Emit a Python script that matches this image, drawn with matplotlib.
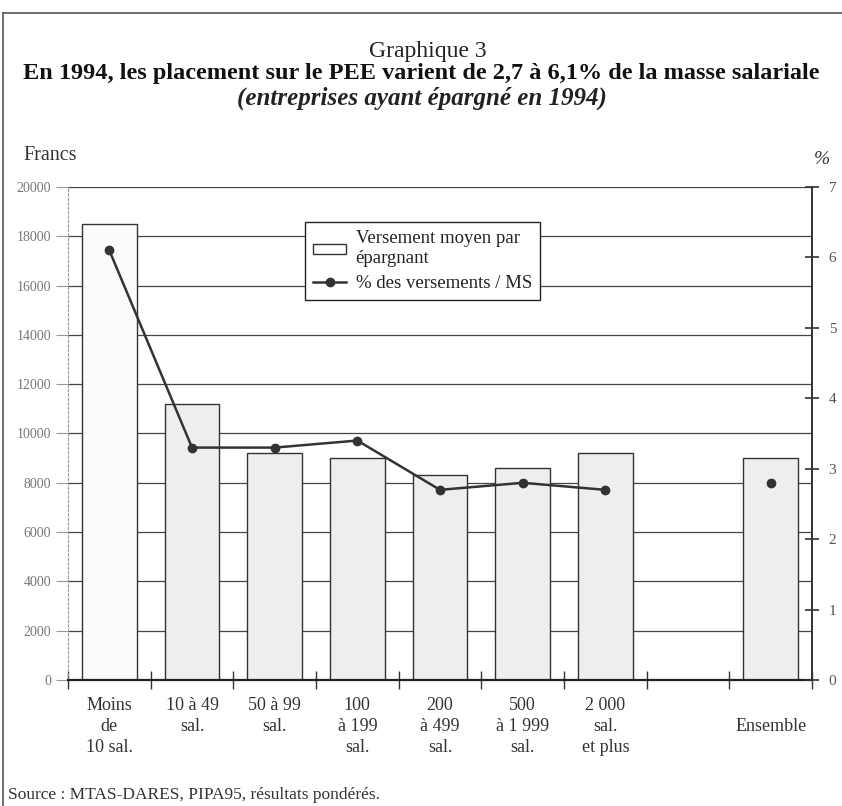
import numpy as np
import matplotlib
matplotlib.use("Agg")
import matplotlib.pyplot as plt
from matplotlib.patches import Rectangle
from matplotlib.lines import Line2D

plt.rcParams['font.family'] = ['Liberation Serif', 'DejaVu Serif']

categories = ["Moins\nde\n10 sal.", "10 à 49\nsal.", "50 à 99\nsal.", "100\nà 199\nsal.",
              "200\nà 499\nsal.", "500\nà 1 999\nsal.", "2 000\nsal.\net plus", "", "\nEnsemble"]
versement = [18500, 11200, 9200, 9000, 8300, 8600, 9200, np.nan, 9000]
pct_line = [6.1, 3.3, 3.3, 3.4, 2.7, 2.8, 2.7, np.nan, np.nan]
pct_ensemble = [np.nan] * 8 + [2.8]
left_ticks = [0, 2000, 4000, 6000, 8000, 10000, 12000, 14000, 16000, 18000, 20000]
left_labels = ["0", "2000", "4000", "6000", "8000", "10000", "12000", "14000", "16000", "18000", "20000"]
right_ticks = [0, 1, 2, 3, 4, 5, 6, 7]

W, H = 842, 806
fig = plt.figure(figsize=(W / 100, H / 100), dpi=100)
ax = fig.add_axes([68 / W, 1 - 680 / H, (812 - 68) / W, (680 - 187) / H])

n = len(categories)
x = np.arange(n)
bar_colors = ["#fbfbfb"] + ["#eeeeee"] * (n - 1)
ax.bar(x, versement, width=0.66, color=bar_colors, edgecolor="#333333", linewidth=1.0, zorder=2)
ax.set_xlim(-0.5, n - 0.5)
ax.set_ylim(0, 20000)
ax.set_yticks(left_ticks)
ax.set_yticklabels(left_labels, fontsize=10, color="#777777")
ax.yaxis.grid(True, color="#444444", linewidth=0.9)
ax.set_axisbelow(True)
ax.tick_params(axis='y', direction='out', length=9, width=0.8, color="#999999", pad=3)

ax.set_xticks(np.arange(n + 1) - 0.5)
ax.set_xticklabels([])
ax.set_xticks(x, minor=True)
ax.set_xticklabels(categories, minor=True, fontsize=13, color="#333333", linespacing=1.32, va='top')
ax.tick_params(axis='x', which='major', direction='inout', length=13, width=1.0, color="#333333")
ax.tick_params(axis='x', which='minor', length=0, pad=12)

ax.spines['top'].set_visible(False)
ax.spines['left'].set_color("#999999")
ax.spines['left'].set_linestyle((0, (2, 2)))
ax.spines['left'].set_linewidth(0.8)
ax.spines['bottom'].set_color("#222222")
ax.spines['bottom'].set_linewidth(1.6)
ax.spines['right'].set_visible(False)

ax2 = ax.twinx()
ax2.set_ylim(0, 7)
ax2.set_yticks(right_ticks)
ax2.set_yticklabels([str(t) for t in right_ticks], fontsize=11, color="#555555")
ax2.tick_params(axis='y', direction='inout', length=10, width=1.2, color="#333333", pad=7)
for s in ['top', 'left', 'bottom']:
    ax2.spines[s].set_visible(False)
ax2.spines['right'].set_color("#333333")
ax2.spines['right'].set_linewidth(1.4)
ax2.plot(x, pct_line, color="#333333", linewidth=1.8, marker='o', markersize=6, zorder=3)
ax2.plot(x, pct_ensemble, color="#333333", linewidth=0, marker='o', markersize=6, zorder=3)

handles = [Rectangle((0, 0), 1, 1, facecolor="white", edgecolor="#333333", linewidth=1.0),
           Line2D([], [], color="#333333", linewidth=1.8, marker='o', markersize=6)]
labels = ["Versement moyen par\népargnant", "% des versements / MS"]
leg = ax2.legend(handles, labels, loc='upper left',
                 bbox_to_anchor=((305 - 68) / 744, 1 - (222 - 187) / 493),
                 fontsize=13.5, frameon=True, fancybox=False, edgecolor="#222222", framealpha=1,
                 borderpad=0.45, handlelength=1.75, handleheight=0.45, handletextpad=0.5,
                 labelspacing=0.4, borderaxespad=0)
leg.get_frame().set_linewidth(1.0)
for t in leg.get_texts():
    t.set_linespacing(1.2)
    t.set_color("#222222")

# Titles and annotations
fig.text(428 / W, 1 - 52 / H, "Graphique 3", ha='center', va='center', fontsize=17, color="#222222")
fig.text(421 / W, 1 - 74 / H, "En 1994, les placement sur le PEE varient de 2,7 à 6,1% de la masse salariale",
         ha='center', va='center', fontsize=17.5, fontweight='bold', color="#111111")
fig.text(422 / W, 1 - 98 / H, "(entreprises ayant épargné en 1994)", ha='center', va='center',
         fontsize=18, fontweight='bold', fontstyle='italic', color="#222222")
fig.text(23 / W, 1 - 156 / H, "Francs", ha='left', va='center', fontsize=14.5, color="#333333")
fig.text(814 / W, 1 - 160 / H, "%", ha='left', va='center', fontsize=14, fontstyle='italic', color="#333333")
fig.text(8 / W, 1 - 795 / H, "Source : MTAS-DARES, PIPA95, résultats pondérés.", ha='left', va='center',
         fontsize=12.5, color="#333333")

# Frame border
fig.add_artist(Line2D([3 / W, 3 / W], [0, 1 - 13 / H], color="#555555", linewidth=1.2, transform=fig.transFigure))
fig.add_artist(Line2D([3 / W, 1], [1 - 13 / H, 1 - 13 / H], color="#555555", linewidth=1.2, transform=fig.transFigure))

fig.savefig("out.png", dpi=100)
